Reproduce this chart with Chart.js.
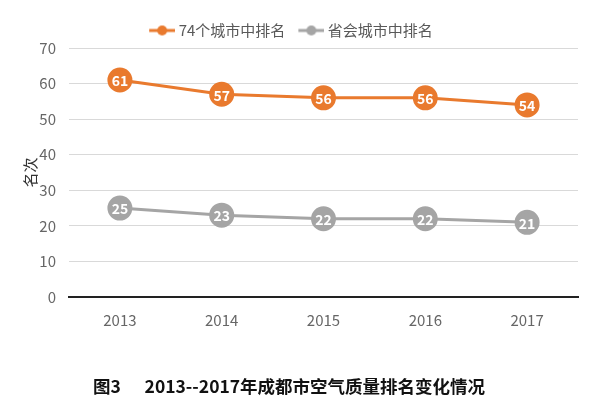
<!DOCTYPE html>
<html><head><meta charset="utf-8">
<script src="https://cdn.jsdelivr.net/npm/chart.js@4.4.1/dist/chart.umd.min.js"></script>
<style>html,body{margin:0;padding:0;background:#fff;}#wrap{width:600px;height:408px;}</style>
</head><body><div id="wrap"><canvas id="c" width="600" height="408"></canvas></div>
<script>
const years = ['2013','2014','2015','2016','2017'];
const rank74 = [61, 57, 56, 56, 54];
const rankProv = [25, 23, 22, 22, 21];
const seriesNames = ['74个城市中排名', '省会城市中排名'];
const yTicks = [0, 10, 20, 30, 40, 50, 60, 70];
const chartTitle = '图3      2013--2017年成都市空气质量排名变化情况';
const yTitle = '名次';

const ORANGE = '#E97A2E';
const GRAY = '#A5A5A5';
const FONT = '"Noto Sans CJK SC", "Noto Sans", sans-serif';

function legendIcon(color){
  const c = document.createElement('canvas');
  c.width = 34; c.height = 12;
  const g = c.getContext('2d');
  g.strokeStyle = color; g.lineWidth = 3;
  g.beginPath(); g.moveTo(8,6); g.lineTo(34,6); g.stroke();
  g.fillStyle = color; g.beginPath(); g.arc(21,6,5,0,Math.PI*2); g.fill();
  return c;
}
const icons = [legendIcon(ORANGE), legendIcon(GRAY)];

const valueLabels = {
  id: 'valueLabels',
  afterDatasetsDraw(chart){
    const ctx = chart.ctx;
    ctx.save();
    ctx.fillStyle = '#fff';
    ctx.font = 'bold 14px ' + FONT;
    ctx.textAlign = 'center';
    ctx.textBaseline = 'middle';
    chart.data.datasets.forEach((ds, i) => {
      chart.getDatasetMeta(i).data.forEach((pt, j) => {
        ctx.fillText(String(ds.data[j]), pt.x, pt.y + 1);
      });
    });
    ctx.restore();
  }
};

new Chart(document.getElementById('c'), {
  type: 'line',
  data: {
    labels: years,
    datasets: [
      { label: seriesNames[0], data: rank74, borderColor: ORANGE, backgroundColor: ORANGE,
        borderWidth: 3, pointRadius: 11, pointBackgroundColor: ORANGE, pointBorderColor: ORANGE,
        pointStyle: 'circle', tension: 0 },
      { label: seriesNames[1], data: rankProv, borderColor: GRAY, backgroundColor: GRAY,
        borderWidth: 3, pointRadius: 11, pointBackgroundColor: GRAY, pointBorderColor: GRAY,
        pointStyle: 'circle', tension: 0 }
    ]
  },
  options: {
    responsive: false,
    animation: false,
    layout: { padding: { left: 0, right: 22, top: 14, bottom: 0 } },
    plugins: {
      legend: {
        display: true, position: 'top',
        labels: {
          usePointStyle: true,
          pointStyleWidth: 26,
          boxHeight: 12,
          padding: 9,
          color: '#595959',
          font: { family: FONT, size: 15 },
          generateLabels(chart){
            return chart.data.datasets.map((ds, i) => ({
              text: ds.label, fillStyle: ds.borderColor, strokeStyle: ds.borderColor,
              pointStyle: icons[i], lineWidth: 0, datasetIndex: i, hidden: false, fontColor: '#595959'
            }));
          }
        }
      },
      title: {
        display: true, position: 'bottom', text: chartTitle, color: '#111',
        font: { family: FONT, size: 17.5, weight: 'bold' },
        padding: { top: 41, bottom: 11 }
      },
      tooltip: { enabled: false }
    },
    scales: {
      x: {
        offset: true,
        grid: { display: false },
        border: { display: true, color: '#222', width: 2 },
        ticks: { color: '#666', font: { family: FONT, size: 15 }, padding: 6 }
      },
      y: {
        min: 0, max: 70,
        afterBuildTicks(scale){ scale.ticks = yTicks.map(v => ({ value: v })); },
        afterFit(scale){ scale.width = 69; },
        grid: { color: '#D9D9D9', lineWidth: 1, drawTicks: false },
        border: { display: false },
        ticks: { color: '#666', font: { family: FONT, size: 15 }, padding: 13 },
        title: { display: true, text: yTitle, color: '#333', font: { family: FONT, size: 15 }, padding: { top: 21, bottom: 0 } }
      }
    }
  },
  plugins: [valueLabels]
});
</script></body></html>
